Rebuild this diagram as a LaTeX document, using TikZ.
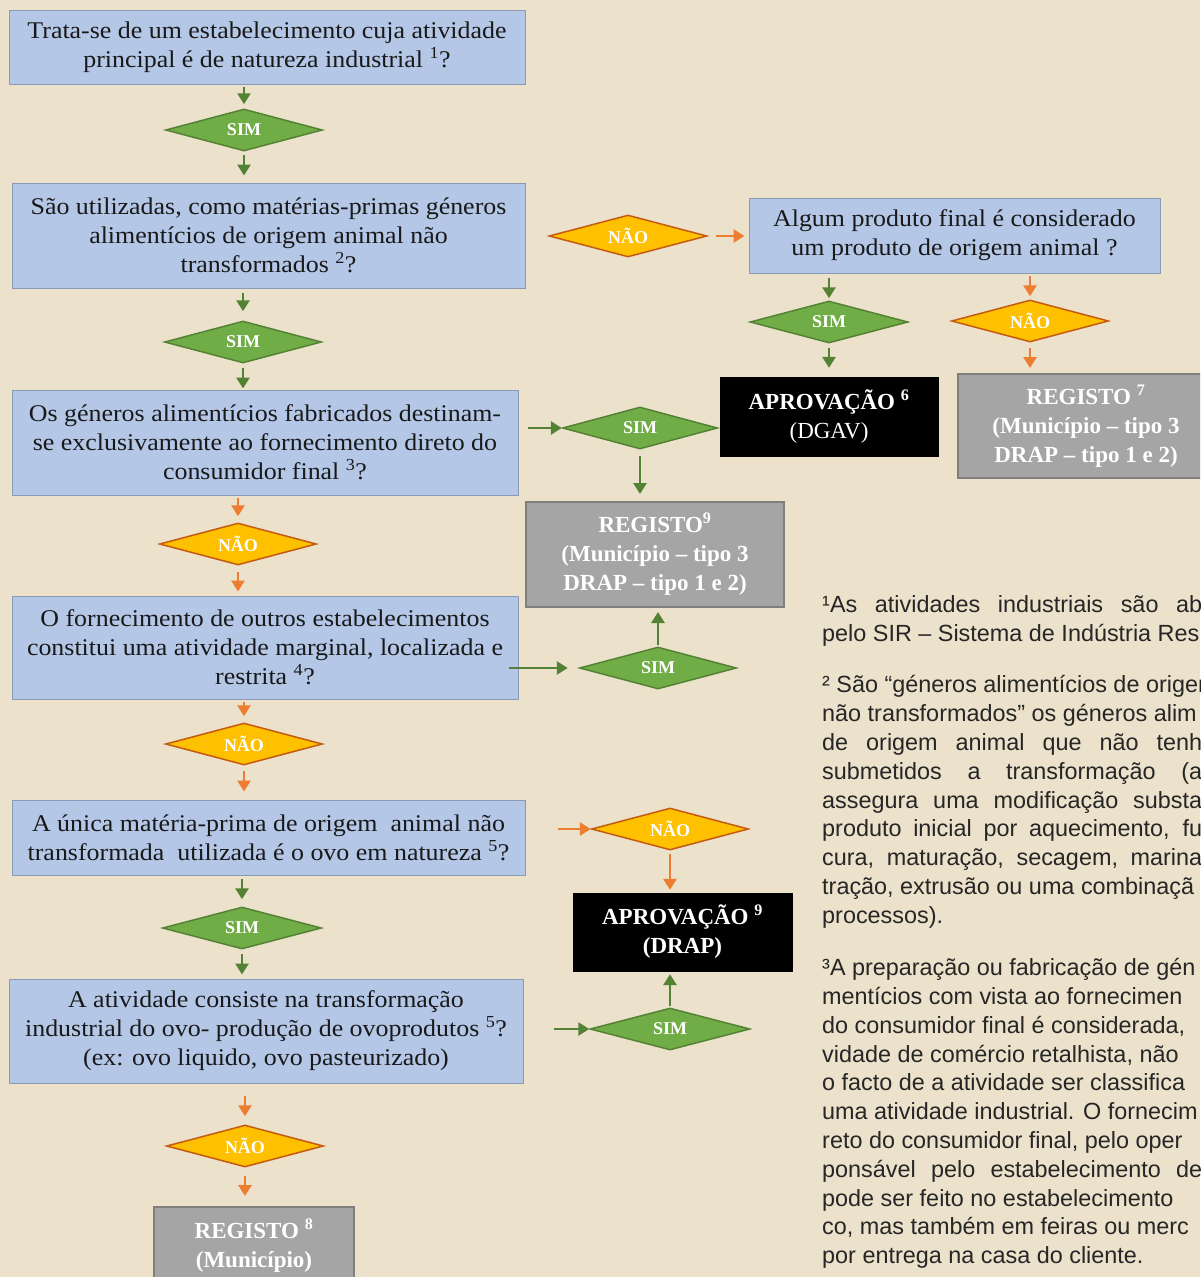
\documentclass[tikz,border=0pt]{standalone}
\usepackage{fontspec}
\setmainfont{Liberation Serif}
\newfontfamily\qfont{Liberation Serif}[FakeStretch=1.08]
\newfontfamily\fnfont{Liberation Sans}
\usetikzlibrary{shapes.geometric,arrows.meta}
\definecolor{paper}{RGB}{236,225,203}
\definecolor{qblue}{RGB}{180,199,231}
\definecolor{qborder}{RGB}{140,155,180}
\definecolor{gfill}{RGB}{112,173,71}
\definecolor{gdraw}{RGB}{84,130,53}
\definecolor{ofill}{RGB}{255,192,0}
\definecolor{odraw}{RGB}{197,90,17}
\definecolor{garrow}{RGB}{84,130,53}
\definecolor{oarrow}{RGB}{237,125,49}
\definecolor{rgfill}{RGB}{165,165,165}
\definecolor{rgdraw}{RGB}{127,127,127}
\definecolor{fntext}{RGB}{38,38,38}
\begin{document}
\begin{tikzpicture}[x=1pt,y=-1pt,
  qbox/.style={draw=qborder, line width=1pt, fill=qblue, align=center,
    font=\qfont\fontsize{24}{29}\selectfont, text=black!90, inner sep=0pt},
  dia/.style={diamond, aspect=3.7, inner sep=0pt, line width=1.5pt,
    minimum width=157pt, minimum height=42pt,
    font=\bfseries\fontsize{18}{18}\selectfont, text=white},
  simd/.style={dia, fill=gfill, draw=gdraw},
  naod/.style={dia, fill=ofill, draw=odraw},
  regbox/.style={draw=rgdraw, line width=2pt, fill=rgfill, align=center,
    font=\bfseries\fontsize{23}{29}\selectfont, text=white, inner sep=0pt},
  aprbox/.style={draw=black, fill=black, align=center,
    font=\fontsize{23}{29}\selectfont, text=white, inner sep=0pt},
  arr/.style={line width=2.8pt, -{Triangle[length=11pt,width=13pt]},
    shorten <=2pt, shorten >=4pt},
  garr/.style={arr, draw=garrow, color=garrow},
  oarr/.style={arr, draw=oarrow, color=oarrow},
  fn/.style={anchor=base west, inner sep=0pt,
    font=\fnfont\fontsize{23.4}{23.4}\selectfont, text=fntext}
]
\useasboundingbox (0,0) rectangle (1200,1277);
\fill[paper] (0,0) rectangle (1200,1277);
\clip (0,0) rectangle (1200,1277);

% question boxes
\node[qbox, minimum width=516pt, minimum height=74pt] (b1) at (267,47)
  {Trata-se de um estabelecimento cuja atividade\\principal é de natureza industrial \textsuperscript{1}?};
\node[qbox, minimum width=513pt, minimum height=105pt] (b2) at (268.5,235.5)
  {São utilizadas, como matérias-primas géneros\\alimentícios de origem animal não\\transformados \textsuperscript{2}?};
\node[qbox, minimum width=506pt, minimum height=105pt] (b3) at (265,442.5)
  {Os géneros alimentícios fabricados destinam-\\se exclusivamente ao fornecimento direto do\\consumidor final \textsuperscript{3}?};
\node[qbox, minimum width=506pt, minimum height=103pt] (b4) at (265,647.5)
  {O fornecimento de outros estabelecimentos\\constitui uma atividade marginal, localizada e\\restrita \textsuperscript{4}?};
\node[qbox, minimum width=513pt, minimum height=75pt] (b5) at (268.5,837.5)
  {A única matéria-prima de origem\ \ animal não\\transformada\ \ utilizada é o ovo em natureza \textsuperscript{5}?};
\node[qbox, minimum width=514pt, minimum height=104pt] (b6) at (266,1031)
  {A atividade consiste na transformação\\industrial do ovo- produção de ovoprodutos \textsuperscript{5}?\\(ex: ovo liquido, ovo pasteurizado)};
\node[qbox, minimum width=411pt, minimum height=75pt] (b7) at (954.5,235.5)
  {Algum produto final é considerado\\um produto de origem animal ?};

% result boxes
\node[aprbox, minimum width=218pt, minimum height=79pt] (a6) at (829,416.5)
  {\textbf{APROVAÇÃO \textsuperscript{6}}\\(DGAV)};
\node[regbox, minimum width=256pt, minimum height=104pt] (r7) at (1086,426)
  {REGISTO \textsuperscript{7}\\(Município – tipo 3\\DRAP – tipo 1 e 2)};
\node[regbox, minimum width=258pt, minimum height=105pt] (r9) at (655,554.5)
  {REGISTO\textsuperscript{9}\\(Município – tipo 3\\DRAP – tipo 1 e 2)};
\node[aprbox, minimum width=219pt, minimum height=78pt, font=\bfseries\fontsize{23}{29}\selectfont] (a9) at (682.5,932)
  {APROVAÇÃO \textsuperscript{9}\\(DRAP)};
\node[regbox, minimum width=200pt, minimum height=78pt] (r8) at (254,1246)
  {REGISTO \textsuperscript{8}\\(Município)};

% diamonds
\node[simd] (d1) at (244,130) {SIM};
\node[simd] (d2) at (243,342) {SIM};
\node[simd, minimum width=155pt] (d3) at (640,428) {SIM};
\node[naod] (d4) at (238,544) {NÃO};
\node[simd] (d5) at (658,668) {SIM};
\node[naod] (d6) at (244,744) {NÃO};
\node[naod] (d7) at (670,829) {NÃO};
\node[simd, minimum width=159pt] (d8) at (242,928) {SIM};
\node[simd, minimum width=160pt] (d9) at (670,1029) {SIM};
\node[naod] (d10) at (245,1146) {NÃO};
\node[naod, minimum width=158pt] (d11) at (628,236) {NÃO};
\node[simd, minimum width=158pt] (d12) at (829,322) {SIM};
\node[naod] (d13) at (1030,321) {NÃO};

% connectors
\draw[garr] (b1.south -| d1.north) -- (d1.north);
\draw[garr, shorten <=3pt, shorten >=7pt] (d1.south) -- (d1.south |- b2.north);
\draw[garr, shorten <=4pt, shorten >=9pt] (b2.south -| d2.north) -- (d2.north);
\draw[garr, shorten <=4pt, shorten >=1pt] (d2.south) -- (d2.south |- b3.north);
\draw[garr, shorten <=9pt, shorten >=0pt] (b3.east |- d3.west) -- (d3.west);
\draw[garr, shorten <=6pt, shorten >=7pt] (d3.south) -- (d3.south |- r9.north);
\draw[oarr, shorten <=2pt, shorten >=6pt] (b3.south -| d4.north) -- (d4.north);
\draw[oarr, shorten <=6pt, shorten >=4pt] (d4.south) -- (d4.south |- b4.north);
\draw[garr, shorten <=-10pt, shorten >=11pt] (b4.east |- d5.west) -- (d5.west);
\draw[garr, shorten <=1pt, shorten >=4pt] (d5.north) -- (d5.north |- r9.south);
\draw[oarr, shorten <=2pt, shorten >=6pt] (b4.south -| d6.north) -- (d6.north);
\draw[oarr, shorten <=5pt, shorten >=8pt] (d6.south) -- (d6.south |- b5.north);
\draw[oarr, shorten <=32pt, shorten >=0pt] (b5.east |- d7.west) -- (d7.west);
\draw[oarr, shorten <=3pt, shorten >=3pt] (d7.south) -- (d7.south |- a9.north);
\draw[garr, shorten <=3pt, shorten >=7pt] (b5.south -| d8.north) -- (d8.north);
\draw[garr, shorten <=4pt, shorten >=4pt] (d8.south) -- (d8.south |- b6.north);
\draw[garr, shorten <=30pt, shorten >=0pt] (b6.east |- d9.west) -- (d9.west);
\draw[garr, shorten <=1pt, shorten >=3pt] (d9.north) -- (d9.north |- a9.south);
\draw[oarr, shorten <=12pt, shorten >=8pt] (b6.south -| d10.north) -- (d10.north);
\draw[oarr, shorten <=8pt, shorten >=10pt] (d10.south) -- (d10.south |- r8.north);
\draw[oarr, shorten <=8pt, shorten >=4pt] (d11.east) -- (b7.west |- d11.east);
\draw[garr, shorten <=4pt, shorten >=2pt] (b7.south -| d12.north) -- (d12.north);
\draw[garr, shorten <=4pt, shorten >=9pt] (d12.south) -- (d12.south |- a6.north);
\draw[oarr, shorten <=2pt, shorten >=3pt] (b7.south -| d13.north) -- (d13.north);
\draw[oarr, shorten <=5pt, shorten >=5pt] (d13.south) -- (d13.south |- r7.north);

% footnotes
\node[fn] (f1) at (822,612) {\makebox[380pt][s]{¹As atividades industriais são ab}};
\node[fn] (f2) at (822,641) {pelo SIR – Sistema de Indústria Res};
\node[fn] (f3) at (822,692) {² São “géneros alimentícios de origem};
\node[fn] (f4) at (822,721) {não transformados” os géneros alim};
\node[fn] (f5) at (822,750) {\makebox[380pt][s]{de origem animal que não tenh}};
\node[fn] (f6) at (822,779) {\makebox[380pt][s]{submetidos a transformação (a}};
\node[fn] (f7) at (822,808) {\makebox[380pt][s]{assegura uma modificação substa}};
\node[fn] (f8) at (822,836) {\makebox[380pt][s]{produto inicial por aquecimento, fu}};
\node[fn] (f9) at (822,865) {\makebox[380pt][s]{cura, maturação, secagem, marina}};
\node[fn] (f10) at (822,894) {tração, extrusão ou uma combinaçã};
\node[fn] (f11) at (822,923) {processos).};
\node[fn] (f12) at (822,975) {³A preparação ou fabricação de gén};
\node[fn] (f13) at (822,1004) {mentícios com vista ao fornecimen};
\node[fn] (f14) at (822,1033) {do consumidor final é considerada,};
\node[fn] (f15) at (822,1062) {vidade de comércio retalhista, não};
\node[fn] (f16) at (822,1090) {o facto de a atividade ser classifica};
\node[fn] (f17) at (822,1119) {uma atividade industrial. O fornecim};
\node[fn] (f18) at (822,1148) {reto do consumidor final, pelo oper};
\node[fn] (f19) at (822,1177) {\makebox[380pt][s]{ponsável pelo estabelecimento de}};
\node[fn] (f20) at (822,1206) {pode ser feito no estabelecimento};
\node[fn] (f21) at (822,1234) {co, mas também em feiras ou merc};
\node[fn] (f22) at (822,1263) {por entrega na casa do cliente.};
\end{tikzpicture}
\end{document}
